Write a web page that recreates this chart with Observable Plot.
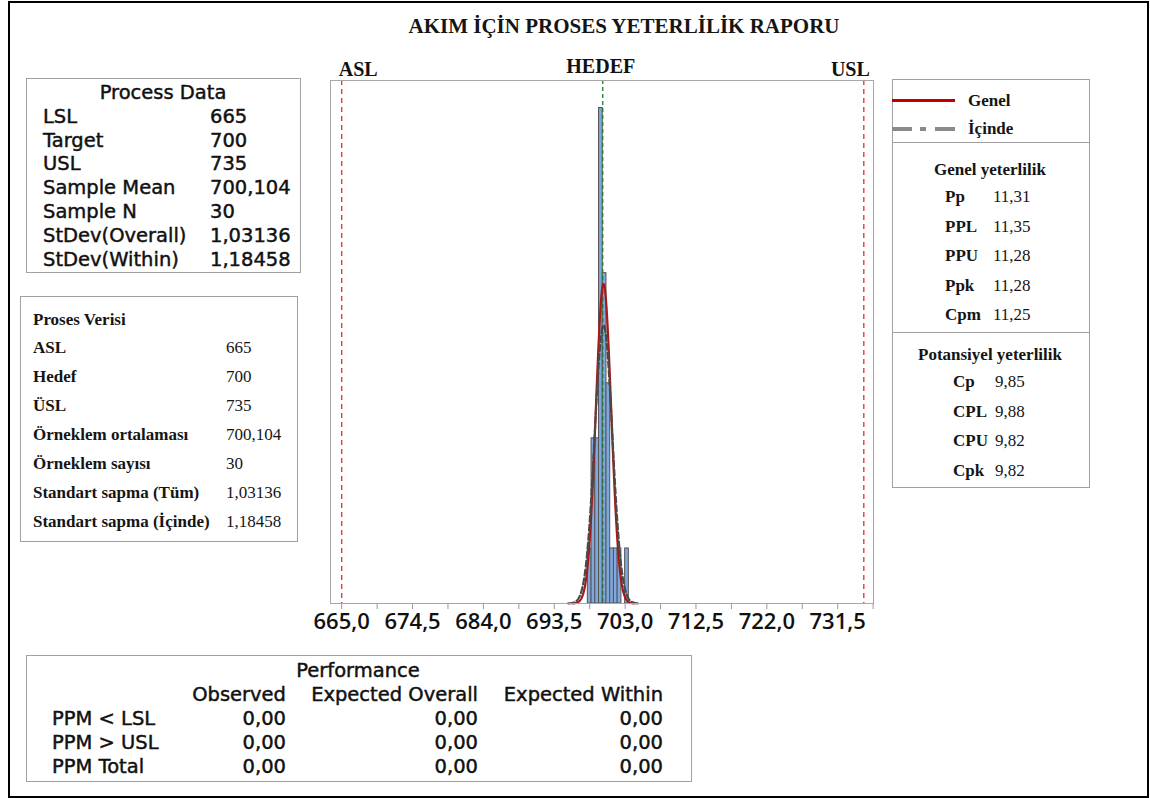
<!DOCTYPE html>
<html>
<head>
<meta charset="utf-8">
<script src="https://cdn.jsdelivr.net/npm/d3@7"></script>
<script src="https://cdn.jsdelivr.net/npm/@observablehq/plot@0.6"></script>
<style>
  body { margin: 0; background: #fff; }
  #page { position: relative; width: 1150px; height: 798px; overflow: hidden; background: #fff; }
  #outer { position: absolute; left: 8px; top: 1px; width: 1137px; height: 793px; border: 2px solid #000; box-sizing: content-box; pointer-events: none; }
  #chart { position: absolute; left: 0; top: 0; }
  .box { position: absolute; border: 1px solid #a0a0a0; background: #fff; box-sizing: border-box; }
  .t { position: absolute; white-space: pre; }
  .sans { font-family: "DejaVu Sans", sans-serif; font-size: 19.5px; color: #111; -webkit-text-stroke: 0.45px #111; }
  .serif { font-family: "Liberation Serif", "Times New Roman", serif; font-size: 17px; color: #151515; }
  .b { font-weight: bold; }
</style>
</head>
<body>
<div id="page"><div id="chart"></div></div>
<script>
// ---------- data ----------
const LSL = 665, TARGET = 700, USL = 735;
const sampleMean = 700.104;
const sampleN = 30;
const sdOverall = 1.03136;
const sdWithin = 1.18458;

const binStart  = [698, 698.5, 699, 699.5, 700, 700.5, 701, 701.5, 702, 702.5, 703];
const binCounts = [1, 3, 3, 9, 6, 4, 1, 1, 1, 0, 1];
const binWidth = 0.5;

const majorTicks = [665, 674.5, 684, 693.5, 703, 712.5, 722, 731.5];
const minorTicks = [669.75, 679.25, 688.75, 698.25, 707.75, 717.25, 726.75, 736.25];

const titleText = "AKIM İÇİN PROSES YETERLİLİK RAPORU";
const specLabels = ["ASL", "HEDEF", "USL"];

const processTitle = "Process Data";
const processLabels = ["LSL", "Target", "USL", "Sample Mean", "Sample N", "StDev(Overall)", "StDev(Within)"];
const processValues = ["665", "700", "735", "700,104", "30", "1,03136", "1,18458"];

const prosesTitle = "Proses Verisi";
const prosesLabels = ["ASL", "Hedef", "ÜSL", "Örneklem ortalaması", "Örneklem sayısı", "Standart sapma (Tüm)", "Standart sapma (İçinde)"];
const prosesValues = ["665", "700", "735", "700,104", "30", "1,03136", "1,18458"];

const legendLabels = ["Genel", "İçinde"];

const genelTitle = "Genel yeterlilik";
const genelLabels = ["Pp", "PPL", "PPU", "Ppk", "Cpm"];
const genelValues = ["11,31", "11,35", "11,28", "11,28", "11,25"];

const potTitle = "Potansiyel yeterlilik";
const potLabels = ["Cp", "CPL", "CPU", "Cpk"];
const potValues = ["9,85", "9,88", "9,82", "9,82"];

const perfTitle = "Performance";
const perfColumns = ["Observed", "Expected Overall", "Expected Within"];
const perfRows = ["PPM < LSL", "PPM > USL", "PPM Total"];
const perfValues = [["0,00", "0,00", "0,00"], ["0,00", "0,00", "0,00"], ["0,00", "0,00", "0,00"]];

// ---------- derived ----------
const bins = binStart.map((s, i) => ({x1: s, x2: s + binWidth, count: binCounts[i]}));
function normalCurve(mu, sd) {
  const scale = sampleN * binWidth;
  return d3.range(mu - 4 * sd, mu + 4 * sd + 1e-9, sd / 50).map(x => ({
    x, y: scale * Math.exp(-0.5 * ((x - mu) / sd) ** 2) / (sd * Math.sqrt(2 * Math.PI))
  }));
}
const overallCurve = normalCurve(sampleMean, sdOverall);
const withinCurve = normalCurve(sampleMean, sdWithin);
const fmt = d => d.toFixed(1).replace(".", ",");
const allTicks = [...majorTicks, ...minorTicks].sort((a, b) => a - b);
const serifFont = "Liberation Serif, Times New Roman, serif";

// ---------- plot ----------
const chart = Plot.plot({
  width: 1150,
  height: 798,
  marginLeft: 330,
  marginRight: 277,
  marginTop: 80,
  marginBottom: 195,
  x: {domain: [663.5, 736.3]},
  y: {domain: [0, 9.5], axis: null},
  style: {background: "transparent", fontFamily: "Open Sans, sans-serif", color: "#111"},
  marks: [
    Plot.rectY(bins, {x1: "x1", x2: "x2", y: "count", fill: "#7fa8dc", stroke: "#555", strokeWidth: 1}),
    Plot.ruleX([LSL, USL], {stroke: "#e8393b", strokeWidth: 1.4, strokeDasharray: "5,4"}),
    Plot.ruleX([TARGET], {stroke: "#1f7a2e", strokeWidth: 1.3, strokeDasharray: "4,3"}),
    Plot.line(overallCurve, {x: "x", y: "y", stroke: "#a81818", strokeWidth: 2.2}),
    Plot.line(withinCurve, {x: "x", y: "y", stroke: "#4a4a4a", strokeWidth: 2.2, strokeDasharray: "6,3"}),
    Plot.frame({stroke: "#a8a8a8"}),
    Plot.axisX({
      ticks: allTicks, tickSize: 6, tickPadding: 4, stroke: "#999",
      tickFormat: d => majorTicks.includes(d) ? fmt(d) : "",
      fontSize: 22, fontWeight: 600, fill: "#111"
    }),
    Plot.text([LSL], {x: d => d, text: () => specLabels[0], frameAnchor: "top", dy: -19, textAnchor: "start", dx: -3,
      fontFamily: serifFont, fontWeight: "bold", fontSize: 20, fill: "#111"}),
    Plot.text([TARGET], {x: d => d, text: () => specLabels[1], frameAnchor: "top", dy: -22, dx: -2,
      fontFamily: serifFont, fontWeight: "bold", fontSize: 20, fill: "#111"}),
    Plot.text([USL], {x: d => d, text: () => specLabels[2], frameAnchor: "top", dy: -19, textAnchor: "end", dx: 6,
      fontFamily: serifFont, fontWeight: "bold", fontSize: 20, fill: "#111"})
  ]
});
document.getElementById("chart").appendChild(chart);

// ---------- panels ----------
const page = document.getElementById("page");
function el(cls, left, top, w, h, text, extra) {
  const d = document.createElement("div");
  d.className = cls;
  d.style.left = left + "px"; d.style.top = top + "px";
  if (w != null) d.style.width = w + "px";
  if (h != null) d.style.height = h + "px";
  if (text != null) d.textContent = text;
  if (extra) Object.assign(d.style, extra);
  page.appendChild(d);
  return d;
}
function txt(cls, x, cy, text, align, lh) {
  lh = lh || 20;
  const extra = {lineHeight: lh + "px"};
  if (align === "center") extra.transform = "translateX(-50%)";
  if (align === "right") extra.transform = "translateX(-100%)";
  return el("t " + cls, x, cy - lh / 2, null, lh, text, extra);
}

// title
txt("serif b", 624, 26, titleText, "center", 24).style.fontSize = "21px";

// Process Data box
el("box", 26, 78, 275, 195);
txt("sans", 163, 93.2, processTitle, "center");
processLabels.forEach((l, i) => {
  const cy = 116.8 + i * 23.8;
  txt("sans", 43, cy, l);
  txt("sans", 210, cy, processValues[i]);
});

// Proses Verisi box
el("box", 20, 296, 278, 246);
txt("serif b", 33, 320, prosesTitle);
prosesLabels.forEach((l, i) => {
  const cy = 348 + i * 29;
  txt("serif b", 33, cy, l);
  txt("serif", 226, cy, prosesValues[i]);
});

// legend box
el("box", 892, 79, 198, 64);
el("abs", 892, 99, 63, 3, null, {position: "absolute", background: "#c00000"});
txt("serif b", 968, 101, legendLabels[0]);
el("abs", 892, 127, 20, 4, null, {position: "absolute", background: "#8a8a8a"});
el("abs", 920, 127, 6, 4, null, {position: "absolute", background: "#8a8a8a"});
el("abs", 935, 127, 20, 4, null, {position: "absolute", background: "#8a8a8a"});
txt("serif b", 968, 129, legendLabels[1]);

// Genel yeterlilik box
el("box", 892, 142, 198, 191);
txt("serif b", 990, 170, genelTitle, "center");
genelLabels.forEach((l, i) => {
  const cy = 197 + i * 29.5;
  txt("serif b", 945, cy, l);
  txt("serif", 993, cy, genelValues[i]);
});

// Potansiyel yeterlilik box
el("box", 892, 332, 198, 156);
txt("serif b", 990, 355, potTitle, "center");
potLabels.forEach((l, i) => {
  const cy = 382 + i * 29.6;
  txt("serif b", 953, cy, l);
  txt("serif", 995, cy, potValues[i]);
});

// Performance box
el("box", 26, 655, 666, 127);
txt("sans", 358, 670.5, perfTitle, "center");
const colRight = [286, 478, 663];
perfColumns.forEach((c, j) => txt("sans", colRight[j], 694.7, c, "right"));
perfRows.forEach((r, i) => {
  const cy = 718.7 + i * 24;
  txt("sans", 52, cy, r);
  perfValues[i].forEach((v, j) => txt("sans", colRight[j], cy, v, "right"));
});

// outer border
el("", 8, 1, null, null, null).id = "outer";
</script>
</body>
</html>
